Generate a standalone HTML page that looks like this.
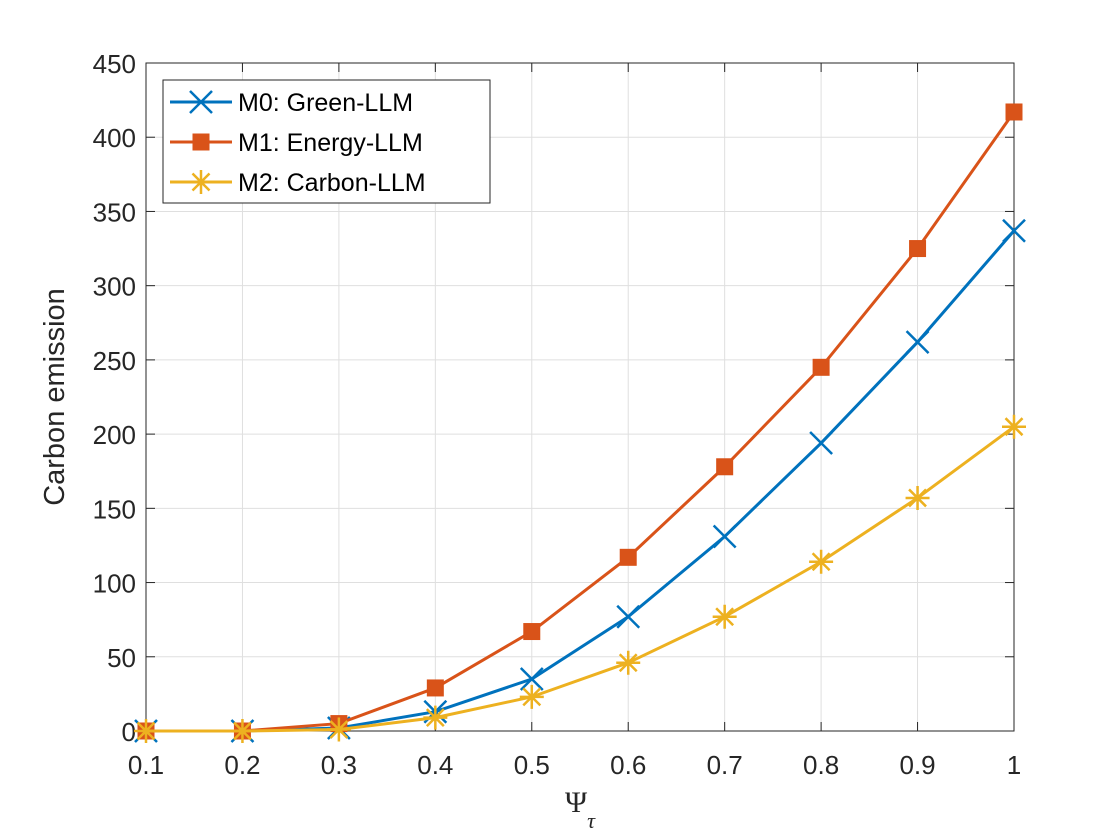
<!DOCTYPE html>
<html><head><meta charset="utf-8"><style>
body{margin:0;background:#fff;}
svg{display:block;font-family:"Liberation Sans",sans-serif;}
</style></head><body>
<svg id="chart" width="1120" height="840"></svg>
<script>
const categories=[0.1,0.2,0.3,0.4,0.5,0.6,0.7,0.8,0.9,1];
const m0Values=[0,0,2,13,35,77,131,194,262,337];
const m1Values=[0,0,5,29,67,117,178,245,325,417];
const m2Values=[0,0,1,9,23,46,77,114,157,205];
const xTickLabels=["0.1","0.2","0.3","0.4","0.5","0.6","0.7","0.8","0.9","1"];
const yTickValues=[0,50,100,150,200,250,300,350,400,450];
const seriesNames=["M0: Green-LLM","M1: Energy-LLM","M2: Carbon-LLM"];

const NS="http://www.w3.org/2000/svg";
const svg=document.getElementById('chart');
const L=146,R=1014,T=63,B=731;
const xs=v=>L+(v-0.1)/0.9*(R-L);
const ys=v=>B-v/450*(B-T);
function mk(tag,attrs,parent){const e=document.createElementNS(NS,tag);for(const k in attrs)e.setAttribute(k,attrs[k]);(parent||svg).appendChild(e);return e;}

const grid=mk('g',{});


categories.forEach(c=>mk('line',{x1:xs(c),x2:xs(c),y1:T,y2:B,stroke:'#dfdfdf','stroke-width':1},grid));
yTickValues.forEach(v=>mk('line',{x1:L,x2:R,y1:ys(v),y2:ys(v),stroke:'#dfdfdf','stroke-width':1},grid));
const box=mk('rect',{x:L,y:T,width:R-L,height:B-T,fill:'none',stroke:'#262626','stroke-width':1});



const xt=mk('g',{});


categories.forEach((c,i)=>{
  mk('line',{x1:xs(c),x2:xs(c),y1:B,y2:B-9,stroke:'#262626'},xt);
  mk('line',{x1:xs(c),x2:xs(c),y1:T,y2:T+9,stroke:'#262626'},xt);
  const t=mk('text',{x:xs(c),y:B+43,'text-anchor':'middle','font-size':26,fill:'#262626'},xt);t.textContent=xTickLabels[i];
});
const yt=mk('g',{});


yTickValues.forEach(v=>{
  mk('line',{x1:L,x2:L+9,y1:ys(v),y2:ys(v),stroke:'#262626'},yt);
  mk('line',{x1:R,x2:R-9,y1:ys(v),y2:ys(v),stroke:'#262626'},yt);
  const t=mk('text',{x:L-10,y:ys(v)+10,'text-anchor':'end','font-size':26,fill:'#262626'},yt);t.textContent=v;
});
const yl=mk('text',{x:64,y:397,'text-anchor':'middle','font-size':29,fill:'#262626',transform:'rotate(-90 64 397)'});
yl.textContent='Carbon emission';


const xl=mk('text',{x:565,y:812,'font-size':30,fill:'#262626','font-family':'Liberation Serif, serif'});
xl.innerHTML='Ψ<tspan dy="16" font-size="22" font-style="italic">τ</tspan>';



function marker(type,x,y,color,g){
  if(type==='x'){const s=11;mk('path',{d:`M${x-s} ${y-s}L${x+s} ${y+s}M${x-s} ${y+s}L${x+s} ${y-s}`,stroke:color,'stroke-width':2.5,fill:'none'},g);}
  else if(type==='sq'){mk('rect',{x:x-8,y:y-8,width:16,height:16,fill:color,stroke:color,'stroke-width':1},g);}
  else{const s=12,d=8.5;mk('path',{d:`M${x-s} ${y}L${x+s} ${y}M${x} ${y-s}L${x} ${y+s}M${x-d} ${y-d}L${x+d} ${y+d}M${x-d} ${y+d}L${x+d} ${y-d}`,stroke:color,'stroke-width':2.5,fill:'none'},g);}
}
const series=[[m0Values,'#0072BD','x','series-m0'],[m1Values,'#D95319','sq','series-m1'],[m2Values,'#EDB120','star','series-m2']];
series.forEach(([vals,color,type,name])=>{
  const g=mk('g',{});
  
  
  mk('polyline',{points:vals.map((v,i)=>xs(categories[i])+','+ys(v)).join(' '),fill:'none',stroke:color,'stroke-width':3},g);
  vals.forEach((v,i)=>marker(type,xs(categories[i]),ys(v),color,g));
});

const lg=mk('g',{});


mk('rect',{x:163,y:80,width:327,height:123,fill:'#fff',stroke:'#262626'},lg);
series.forEach(([vals,color,type],i)=>{
  const y=102+i*40;
  mk('line',{x1:170,x2:232,y1:y,y2:y,stroke:color,'stroke-width':3},lg);
  marker(type,201,y,color,lg);
  const t=mk('text',{x:238,y:y+9,'font-size':25,fill:'#000'},lg);t.textContent=seriesNames[i];
});
</script>
</body></html>
